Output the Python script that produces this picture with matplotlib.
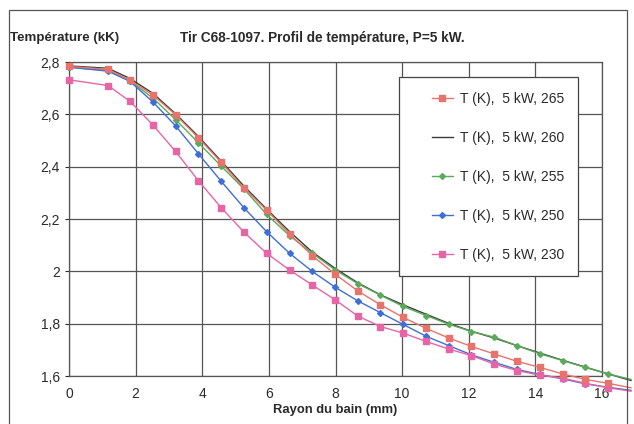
import numpy as np
import matplotlib
matplotlib.use("Agg")
import matplotlib.pyplot as plt
from matplotlib.patches import Rectangle

plt.rcParams['font.family'] = ['Liberation Sans', 'DejaVu Sans']

# rayon du bain (mm)
rayon = [0, 1.17, 1.83, 2.52, 3.2, 3.88, 4.57, 5.25, 5.93, 6.62, 7.3, 7.98,
         8.67, 9.35, 10.03, 10.72, 11.4, 12.08, 12.77, 13.45, 14.13, 14.82,
         15.5, 16.18, 16.87]

# températures (kK)
t265 = [2.783, 2.772, 2.73, 2.674, 2.598, 2.511, 2.416, 2.319, 2.234, 2.143,
        2.06, 1.99, 1.925, 1.872, 1.824, 1.782, 1.745, 1.713, 1.684, 1.656,
        1.633, 1.608, 1.587, 1.572, 1.555]
t260 = [2.785, 2.776, 2.737, 2.68, 2.602, 2.516, 2.421, 2.326, 2.238, 2.152,
        2.074, 2.012, 1.956, 1.91, 1.872, 1.836, 1.801, 1.771, 1.745, 1.716,
        1.688, 1.66, 1.634, 1.608, 1.583]
t255 = [2.78, 2.768, 2.728, 2.662, 2.58, 2.492, 2.402, 2.315, 2.218, 2.136,
        2.07, 2.006, 1.953, 1.909, 1.866, 1.831, 1.798, 1.77, 1.748, 1.716,
        1.685, 1.659, 1.633, 1.608, 1.587]
t250 = [2.78, 2.765, 2.726, 2.647, 2.556, 2.45, 2.344, 2.243, 2.152, 2.069,
        2.0, 1.94, 1.887, 1.842, 1.797, 1.752, 1.716, 1.681, 1.652, 1.625,
        1.606, 1.589, 1.57, 1.557, 1.545]
t230 = [2.732, 2.71, 2.65, 2.559, 2.458, 2.347, 2.243, 2.15, 2.069, 2.005,
        1.948, 1.892, 1.829, 1.789, 1.764, 1.732, 1.703, 1.678, 1.645, 1.621,
        1.603, 1.592, 1.572, 1.555, 1.542]

labels = ['T (K),  5 kW, 265', 'T (K),  5 kW, 260', 'T (K),  5 kW, 255',
          'T (K),  5 kW, 250', 'T (K),  5 kW, 230']

xticks = [0, 2, 4, 6, 8, 10, 12, 14, 16]
yticks = [1.6, 1.8, 2.0, 2.2, 2.4, 2.6, 2.8]
ytick_labels = ['1,6', '1,8', '2', '2,2', '2,4', '2,6', '2,8']

fig = plt.figure(figsize=(6.34, 4.24), dpi=100)
ax = fig.add_axes([69/634, 48/424, 533/634, 314/424])

txt = '#2a2a2a'
grid_c = '#555555'

# une marque par point sauf le dernier (hors image)
mk = slice(0, len(rayon) - 1)

ax.plot(rayon, t265, color='#e8736c', lw=1.0, marker='s', ms=4.2,
        markevery=mk, clip_on=False, label=labels[0], zorder=5)
ax.plot(rayon, t260, color='#3a3a3a', lw=1.0, clip_on=False,
        label=labels[1], zorder=4)
ax.plot(rayon, t255, color='#5aaa5a', lw=1.0, marker='D', ms=3,
        markevery=mk, clip_on=False, label=labels[2], zorder=4)
ax.plot(rayon, t250, color='#3d6fd6', lw=1.0, marker='D', ms=3,
        markevery=mk, clip_on=False, label=labels[3], zorder=4)
ax.plot(rayon, t230, color='#e765a6', lw=1.0, marker='s', ms=4.2,
        markevery=mk, clip_on=False, label=labels[4], zorder=4)

ax.set_xlim(0, 16)
ax.set_ylim(1.6, 2.8)
ax.set_xticks(xticks)
ax.set_xticklabels([str(v) for v in xticks])
ax.set_yticks(yticks)
ax.set_yticklabels(ytick_labels)
ax.tick_params(axis='both', labelsize=10, colors=txt, length=3, width=0.8,
               direction='out')
ax.tick_params(axis='x', length=0, pad=8)
ax.grid(True, color=grid_c, lw=0.9)
ax.set_axisbelow(True)
for s in ax.spines.values():
    s.set_color(grid_c)
    s.set_linewidth(0.9)

# cadre de la légende dessiné à part, contenu collé à droite comme Excel
ax.add_patch(Rectangle((0.619, 0.318), 0.336, 0.634, transform=ax.transAxes,
                       facecolor='white', edgecolor='#444444', lw=0.9,
                       zorder=6))
leg = ax.legend(loc='upper left', bbox_to_anchor=(0.681, 0.904), fontsize=10,
                labelspacing=1.8, borderpad=0, handlelength=1.5,
                handletextpad=0.5, frameon=False, borderaxespad=0)
leg.set_zorder(7)
for t in leg.get_texts():
    t.set_color(txt)

fig.text(10/634, 1 - 38/424, 'Température (kK)', fontsize=9.6,
         fontweight='bold', color=txt, va='center', ha='left')
fig.text(180/634, 1 - 38/424, 'Tir C68-1097. Profil de température, P=5 kW.',
         fontsize=9.8, fontweight='bold', color=txt, va='center', ha='left')
fig.text(335/634, 1 - 410/424, 'Rayon du bain (mm)', fontsize=9.4,
         fontweight='bold', color=txt, va='center', ha='center')

# cadre extérieur du graphique
fig.patches.append(Rectangle((9/634, -0.02), 618/634, 1.02 - 10/424,
                             transform=fig.transFigure, fill=False,
                             edgecolor='#555555', lw=0.9))

fig.savefig('out.png', dpi=100)
